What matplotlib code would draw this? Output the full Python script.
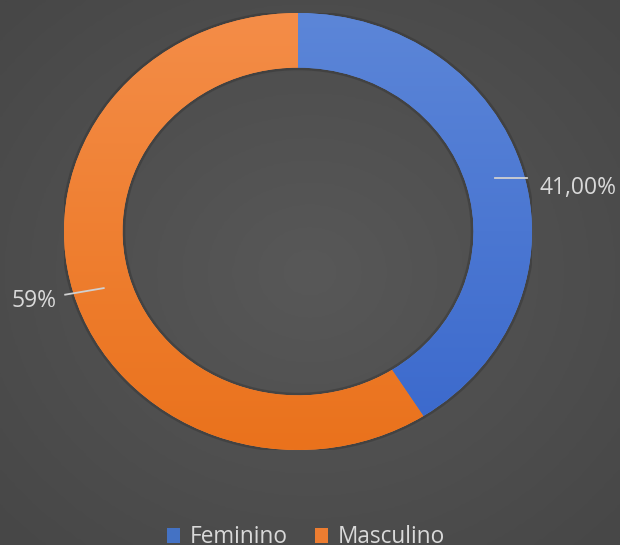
import numpy as np
import matplotlib.pyplot as plt
from matplotlib.colors import LinearSegmentedColormap
from matplotlib.patches import Patch, Wedge

categorias = ['Feminino', 'Masculino']
valores = [41, 59]
rotulos = ['41,00%', '59%']
cores_topo = ['#5c86d8', '#f48d48']
cores_base = ['#3a68cc', '#ea721c']
cores_legenda = ['#4472c4', '#ed7d31']

plt.rcParams['font.family'] = ['Open Sans', 'DejaVu Sans']

fig = plt.figure(figsize=(6.2, 5.45), dpi=100)

# fundo com leve gradiente radial
bg = fig.add_axes([0, 0, 1, 1])
yy, xx = np.mgrid[-1:1:300j, -1:1:300j]
rr = np.sqrt(xx**2 + yy**2)
bg_cmap = LinearSegmentedColormap.from_list('bg', ['#585858', '#474747'])
bg.imshow(rr, cmap=bg_cmap, extent=[0, 1, 0, 1], aspect='auto', vmin=0, vmax=1.4)
bg.set_axis_off()

ax = fig.add_axes([64/620, 95/545, 468/620, 437/545])
wedges, _ = ax.pie(valores, startangle=90, counterclock=False, radius=1,
                   wedgeprops=dict(width=0.25, linewidth=0))
ax.set_aspect('auto')
ax.set_xlim(-1, 1)
ax.set_ylim(-1, 1)
ax.set_axis_off()

# sombra suave do anel
ring = Wedge((0, 0), 1.012, 0, 360, width=0.274,
             facecolor='#333333', alpha=0.45, zorder=0.5)
ax.add_patch(ring)

grad = np.linspace(1, 0, 256).reshape(-1, 1)
for w, c1, c2 in zip(wedges, cores_topo, cores_base):
    w.set_facecolor(c1)
    cm = LinearSegmentedColormap.from_list('g', [c2, c1])
    im = ax.imshow(grad, cmap=cm, extent=[-1, 1, -1, 1], aspect='auto', zorder=2)
    im.set_clip_path(w)

# rótulos com linhas de chamada
for w, txt in zip(wedges, rotulos):
    ang = np.deg2rad((w.theta1 + w.theta2) / 2)
    x0, y0 = 0.875 * np.cos(ang), 0.875 * np.sin(ang)
    if np.cos(ang) > 0:
        x1, y1 = 0.98, y0
        ax.plot([x0, x1], [y0, y1], color='#d0d0d0', lw=1.3, zorder=3, clip_on=False)
        ax.text(x1 + 0.05, y1 - 0.045, txt, color='#d9d9d9', fontsize=16.5,
                ha='left', va='center', zorder=3)
    else:
        x0, y0 = x0 + 0.01, y0 - 0.015
        x1, y1 = -0.995, y0 - 0.03
        ax.plot([x0, x1], [y0, y1], color='#d0d0d0', lw=1.3, zorder=3, clip_on=False)
        ax.text(x1 - 0.035, y1 - 0.03, txt, color='#d9d9d9', fontsize=16.5,
                ha='right', va='center', zorder=3)

handles = [Patch(facecolor=c, edgecolor='none') for c in cores_legenda]
fig.legend(handles, categorias, loc='center', bbox_to_anchor=(0.493, 0.014),
           ncol=2, frameon=False, fontsize=16.3, labelcolor='#d9d9d9',
           handlelength=0.6, handleheight=0.6, handletextpad=0.4, columnspacing=1.2)

fig.savefig('out.png', dpi=100, facecolor='#4a4a4a')
